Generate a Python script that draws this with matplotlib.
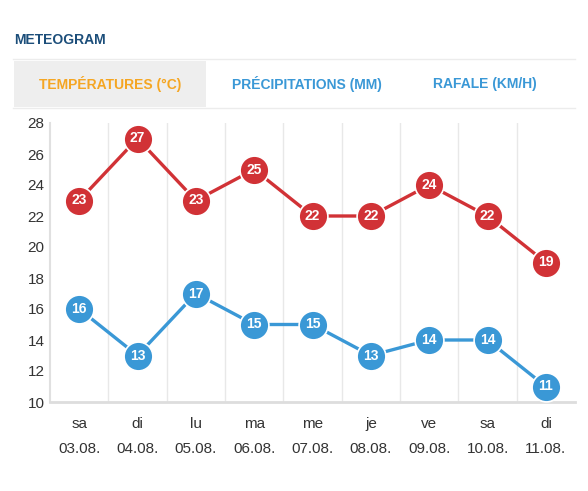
import matplotlib
matplotlib.use("Agg")
import matplotlib.pyplot as plt
from matplotlib.patches import Rectangle
from matplotlib.transforms import ScaledTranslation

plt.rcParams["font.family"] = ["Liberation Sans", "DejaVu Sans"]

days = ["sa", "di", "lu", "ma", "me", "je", "ve", "sa", "di"]
dates = ["03.08.", "04.08.", "05.08.", "06.08.", "07.08.", "08.08.", "09.08.", "10.08.", "11.08."]
temp_max = [23, 27, 23, 25, 22, 22, 24, 22, 19]
temp_min = [16, 13, 17, 15, 15, 13, 14, 14, 11]
y_ticks = [10, 12, 14, 16, 18, 20, 22, 24, 26, 28]
tabs = ["TEMPÉRATURES (°C)", "PRÉCIPITATIONS (MM)", "RAFALE (KM/H)"]

RED = "#d13236"
BLUE = "#3a98d6"
W, H = 588, 491

fig = plt.figure(figsize=(W / 100, H / 100), dpi=100)


def fx(px):
    return px / W


def fy(py):
    return 1 - py / H


# header
fig.text(fx(14), fy(40), "METEOGRAM", color="#1c4e7a", fontsize=10,
         fontweight="bold", va="center", ha="left")
fig.add_artist(plt.Line2D([fx(13), fx(575)], [fy(59), fy(59)], color="#ececec", lw=1))
fig.add_artist(Rectangle((fx(14), fy(107)), fx(206) - fx(14), fy(61) - fy(107),
                         transform=fig.transFigure, facecolor="#eeeeee", edgecolor="none"))
fig.add_artist(plt.Line2D([fx(13), fx(575)], [fy(107.5), fy(107.5)], color="#ececec", lw=1))
tab_x = [110, 307, 485]
tab_colors = ["#f5a623", BLUE, BLUE]
for t, x, c in zip(tabs, tab_x, tab_colors):
    fig.text(fx(x), fy(84), t, color=c, fontsize=10, fontweight="bold",
             ha="center", va="center")

ax = fig.add_axes([fx(50), fy(402), fx(575) - fx(50), fy(123) - fy(402)])
x = list(range(len(days)))

ax.set_xlim(-0.5, len(days) - 0.5)
ax.set_ylim(10, 28)
for i in range(1, len(days)):
    ax.axvline(i - 0.5, color="#e8e8e8", lw=1, zorder=0)

ax.plot(x, temp_max, color=RED, lw=2.4, zorder=2)
ax.plot(x, temp_min, color=BLUE, lw=2.4, zorder=2)
ax.scatter(x, temp_max, s=430, color=RED, edgecolor="white", linewidth=1.2, zorder=3, clip_on=False)
ax.scatter(x, temp_min, s=430, color=BLUE, edgecolor="white", linewidth=1.2, zorder=3, clip_on=False)
for xi, v in zip(x, temp_max):
    ax.text(xi, v, str(v), color="white", fontsize=10, fontweight="bold",
            ha="center", va="center", zorder=4)
for xi, v in zip(x, temp_min):
    ax.text(xi, v, str(v), color="white", fontsize=10, fontweight="bold",
            ha="center", va="center", zorder=4)

for s in ["top", "right"]:
    ax.spines[s].set_visible(False)
ax.spines["left"].set_color("#e0e0e0")
ax.spines["left"].set_linewidth(1.5)
ax.spines["bottom"].set_color("#dddddd")
ax.spines["bottom"].set_linewidth(2)

ax.set_yticks(y_ticks)
ax.set_yticklabels([str(v) for v in y_ticks], fontsize=11, color="#333333")
ax.tick_params(axis="y", length=0, pad=4)
ax.set_xticks(x)
ax.set_xticklabels(days, fontsize=11, color="#333333")
ax.tick_params(axis="x", length=0, pad=11)
date_tr = ax.get_xaxis_transform() + ScaledTranslation(0, -0.47, fig.dpi_scale_trans)
for xi, dt in zip(x, dates):
    ax.text(xi, 0, dt, transform=date_tr, fontsize=11, color="#333333",
            ha="center", va="center")

fig.savefig("out.png", dpi=100)
